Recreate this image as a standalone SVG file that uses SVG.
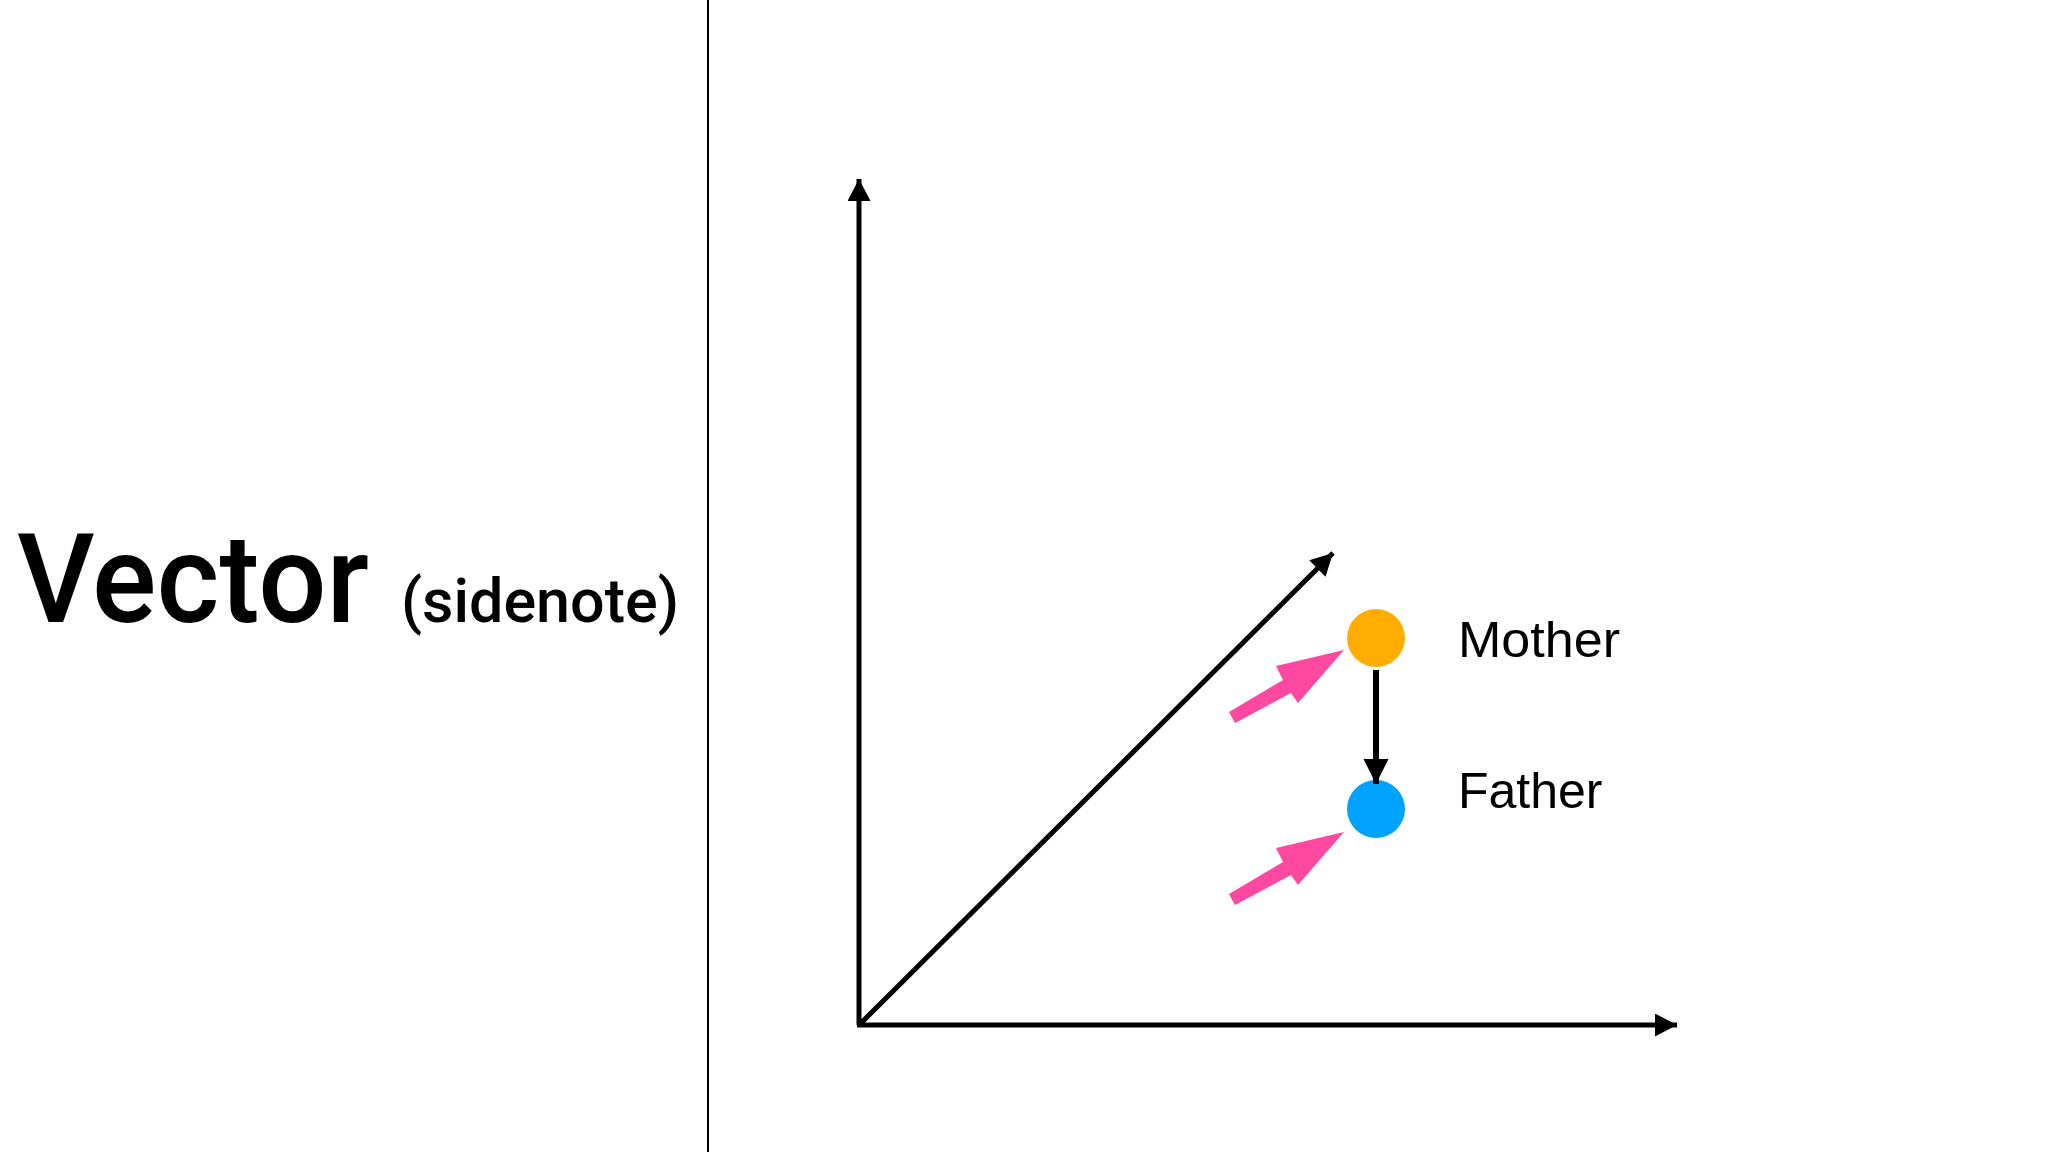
<svg xmlns="http://www.w3.org/2000/svg" width="2048" height="1152" viewBox="0 0 2048 1152">
  <style>
    .axis { stroke: #000; stroke-width: 5; fill: none; }
    .title { font-family: Roboto, "Liberation Sans", Arial, sans-serif; font-weight: 500; fill: #000; }
    .label { font-family: "Liberation Sans", Arial, sans-serif; font-size: 50px; fill: #000; }
    .pink { fill: #FF48A0; }
  </style>
  <defs>
    <marker id="head" markerUnits="userSpaceOnUse" markerWidth="24" markerHeight="24" refX="22" refY="11.5" orient="auto">
      <path d="M0,0 L22,11.5 L0,23 Z" fill="#000"/>
    </marker>
    <marker id="head2" markerUnits="userSpaceOnUse" markerWidth="26" markerHeight="26" refX="25" refY="12.5" orient="auto">
      <path d="M0,0 L25,12.5 L0,25 Z" fill="#000"/>
    </marker>
  </defs>
  <rect width="2048" height="1152" fill="#fff"/>
  <line x1="708" y1="0" x2="708" y2="1152" stroke="#000" stroke-width="2"/>
  <g id="title">
    <text class="title" x="17" y="622" font-size="125" textLength="352" lengthAdjust="spacingAndGlyphs">Vector</text>
    <text class="title" x="401" y="622" font-size="62" textLength="278" lengthAdjust="spacingAndGlyphs">(sidenote)</text>
  </g>
  <g id="axes">
    <line class="axis" x1="859" y1="1025" x2="859" y2="179" marker-end="url(#head)"/>
    <line class="axis" x1="857" y1="1025" x2="1677" y2="1025" marker-end="url(#head)"/>
    <line class="axis" x1="860" y1="1024" x2="1333" y2="553" marker-end="url(#head)"/>
  </g>
  <g id="mother">
    <circle cx="1376" cy="638" r="29" fill="#FFAE00"/>
    <text class="label" x="1458" y="657" textLength="162" lengthAdjust="spacingAndGlyphs">Mother</text>
  </g>
  <g id="father">
    <circle cx="1376" cy="809" r="29" fill="#00A2FF"/>
    <text class="label" x="1458" y="808">Father</text>
  </g>
  <g id="connectors">
    <line x1="1376" y1="670" x2="1376" y2="784" stroke="#000" stroke-width="6" marker-end="url(#head2)"/>
    <polygon class="pink" points="1229,712 1283,680 1276,666 1344,650 1298,703 1291,693 1235,723"/>
    <polygon class="pink" points="1229,894 1283,862 1276,848 1344,832 1298,885 1291,875 1235,905"/>
  </g>
</svg>
